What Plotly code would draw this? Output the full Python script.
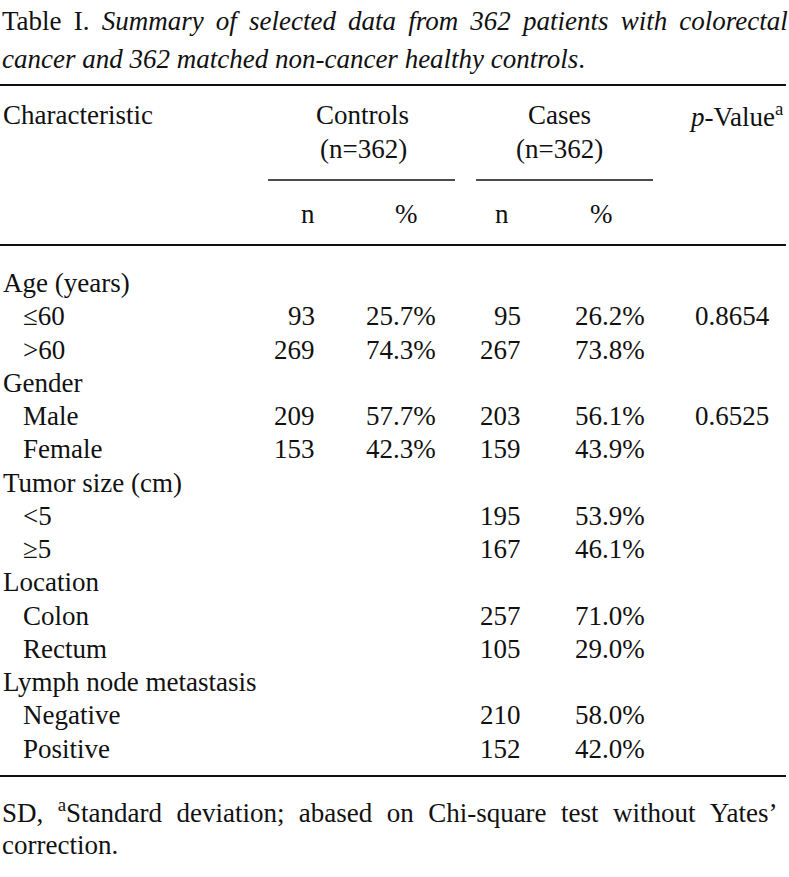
import plotly.graph_objects as go
import html

# ---------------- data ----------------
row_labels = ["Age (years)", "≤60", ">60", "Gender", "Male", "Female",
              "Tumor size (cm)", "<5", "≥5", "Location", "Colon", "Rectum",
              "Lymph node metastasis", "Negative", "Positive"]
row_is_group = [True, False, False, True, False, False, True, False, False,
                True, False, False, True, False, False]
controls_n = [None, 93, 269, None, 209, 153, None, None, None, None, None, None, None, None, None]
controls_pct = [None, 25.7, 74.3, None, 57.7, 42.3, None, None, None, None, None, None, None, None, None]
cases_n = [None, 95, 267, None, 203, 159, None, 195, 167, None, 257, 105, None, 210, 152]
cases_pct = [None, 26.2, 73.8, None, 56.1, 43.9, None, 53.9, 46.1, None, 71.0, 29.0, None, 58.0, 42.0]
p_values = [None, "0.8654", None, None, "0.6525", None, None, None, None, None, None, None, None, None, None]

title_words1 = ["Table", "I.", "<i>Summary", "of", "selected", "data", "from", "362",
                "patients", "with", "colorectal</i>"]
title_line2 = "<i>cancer and 362 matched non-cancer healthy controls</i>."
footer_words1 = ["SD,", "<sup>a</sup>Standard", "deviation;", "abased", "on", "Chi-square",
                 "test", "without", "Yates’"]
footer_line2 = "correction."

# ---------------- layout constants ----------------
W, H = 789, 877
FONT = "Liberation Serif, Times New Roman, serif"
FS = 27
COLOR = "#111111"

x_label_group = 1
x_label_item = 21
x_cn_right = 317
x_cp_right = 438
x_sn_right = 523
x_sp_right = 647
x_p_left = 693

row_y0 = 283
row_step = 33.25

fig = go.Figure()
# invisible trace to set up the axes
fig.add_trace(go.Scatter(x=[0, W], y=[0, H], mode="markers",
                         marker=dict(opacity=0), hoverinfo="skip", showlegend=False))

ann = []


def txt(x, y, s, anchor="left", size=FS):
    ann.append(dict(x=x, y=y, xref="x", yref="y", text=s, showarrow=False,
                    xanchor=anchor, yanchor="middle",
                    font=dict(family=FONT, size=size, color=COLOR)))


# justified-looking lines: widen the word gaps a little
JUST_GAP_TITLE = " \u2009"
JUST_GAP_FOOT = " \u2009\u200a"

# title
txt(0, 21, JUST_GAP_TITLE.join(title_words1))
txt(0, 59, title_line2)

# header
txt(x_label_group, 115, "Characteristic")
txt(362, 115, "Controls", "center")
txt(363, 149, "(n=362)", "center")
txt(559, 115, "Cases", "center")
txt(559, 149, "(n=362)", "center")
txt(687, 115, "<i>p</i>-Value<sup>a</sup>")
txt(308, 214, "n", "center")
txt(406, 214, "%", "center")
txt(502, 214, "n", "center")
txt(601, 214, "%", "center")

# body rows
for i, lab in enumerate(row_labels):
    y = row_y0 + i * row_step
    esc = html.escape(lab, quote=False)
    txt(x_label_group if row_is_group[i] else x_label_item, y, esc)
    if controls_n[i] is not None:
        txt(x_cn_right, y, str(controls_n[i]), "right")
    if controls_pct[i] is not None:
        txt(x_cp_right, y, f"{controls_pct[i]:.1f}%", "right")
    if cases_n[i] is not None:
        txt(x_sn_right, y, str(cases_n[i]), "right")
    if cases_pct[i] is not None:
        txt(x_sp_right, y, f"{cases_pct[i]:.1f}%", "right")
    if p_values[i] is not None:
        txt(x_p_left, y, p_values[i])

# footer
txt(0, 811, JUST_GAP_FOOT.join(footer_words1))
txt(0, 845, footer_line2)

shapes = []


def rule(x0, x1, y, w=2):
    shapes.append(dict(type="line", xref="x", yref="y", x0=x0, x1=x1, y0=y, y1=y,
                       line=dict(color="#111111", width=w)))


rule(0, 786, 85)
rule(268, 455, 180, 1.6)
rule(476, 653, 180, 1.6)
rule(0, 786, 245)
rule(0, 786, 776)

fig.update_layout(
    width=W, height=H,
    margin=dict(l=0, r=0, t=0, b=0),
    paper_bgcolor="white", plot_bgcolor="white",
    xaxis=dict(range=[0, W], visible=False, fixedrange=True),
    yaxis=dict(range=[H, 0], visible=False, fixedrange=True),
    annotations=ann, shapes=shapes, showlegend=False,
)

fig.write_html("out.html", config={"displayModeBar": False},
               post_script="document.body.style.margin='0';document.body.style.overflow='hidden';")
